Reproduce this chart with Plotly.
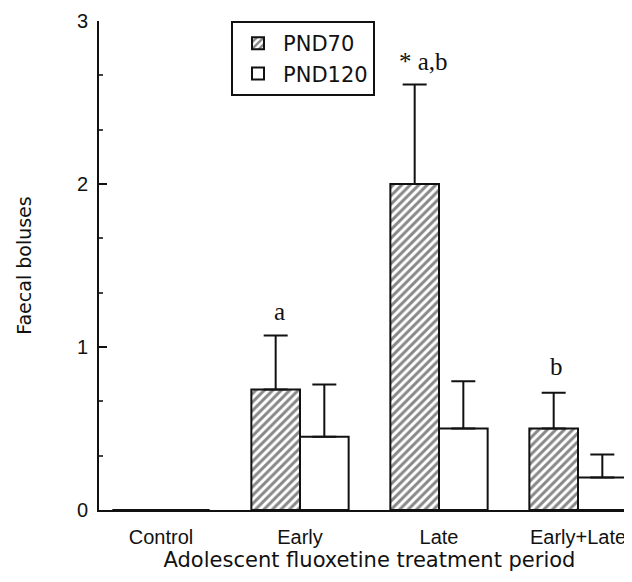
import plotly.graph_objects as go

categories = ["Control", "Early", "Late", "Early+Late"]
pnd70 = [0.0, 0.74, 2.0, 0.5]
pnd70_err = [0.0, 0.33, 0.61, 0.22]
pnd120 = [0.0, 0.45, 0.5, 0.2]
pnd120_err = [0.0, 0.32, 0.29, 0.14]
y_ticks = [0, 1, 2, 3]

fig = go.Figure()
fig.add_trace(go.Bar(
    name="PND70", x=categories, y=pnd70,
    marker=dict(color="white", line=dict(color="#111", width=2),
                pattern=dict(shape="/", fgcolor="#111", bgcolor="white", size=6, solidity=0.5)),
    error_y=dict(type="data", array=pnd70_err, symmetric=False, arrayminus=[0]*4,
                 color="#111", thickness=2, width=12),
))
fig.add_trace(go.Bar(
    name="PND120", x=categories, y=pnd120,
    marker=dict(color="white", line=dict(color="#111", width=2)),
    error_y=dict(type="data", array=pnd120_err, symmetric=False, arrayminus=[0]*4,
                 color="#111", thickness=2, width=12),
))

serif = dict(family="Liberation Serif", size=25, color="#111")
fig.add_annotation(x=1, xshift=-21, y=1.22, text="a", showarrow=False, font=serif)
fig.add_annotation(x=2, xshift=-16, y=2.75, text="* a,b", showarrow=False, font=serif)
fig.add_annotation(x=3, xshift=-22, y=0.88, text="b", showarrow=False, font=serif)

fig.update_layout(
    width=632, height=582,
    margin=dict(l=91, r=0, t=13, b=80),
    paper_bgcolor="white", plot_bgcolor="white",
    barmode="group", bargap=0.30, bargroupgap=0,
    font=dict(family="DejaVu Sans", size=19, color="#111"),
    legend=dict(x=0.244, y=1.0, xanchor="left", yanchor="top",
                bordercolor="#111", borderwidth=2, bgcolor="white",
                font=dict(size=21), itemwidth=40),
    xaxis=dict(type="category", range=[-0.446, 3.446], showline=True, linecolor="#111",
               linewidth=2, ticks="", showgrid=False, ticklabelstandoff=8,
               tickfont=dict(family="Liberation Sans", size=20),
               title=dict(text="Adolescent fluoxetine treatment period", standoff=5,
                          font=dict(size=21))),
    yaxis=dict(range=[0, 3], tickvals=y_ticks, showline=True, linecolor="#111", linewidth=2,
               ticks="inside", ticklen=8, tickwidth=2, tickcolor="#111", showgrid=False,
               zeroline=False, tickfont=dict(family="Liberation Sans", size=20),
               ticklabelstandoff=5,
               minor=dict(ticks="inside", ticklen=4, dtick=1/3, tickcolor="#444"),
               title=dict(text="Faecal boluses", standoff=40, font=dict(size=19))),
)

fig.write_html("out.html")
